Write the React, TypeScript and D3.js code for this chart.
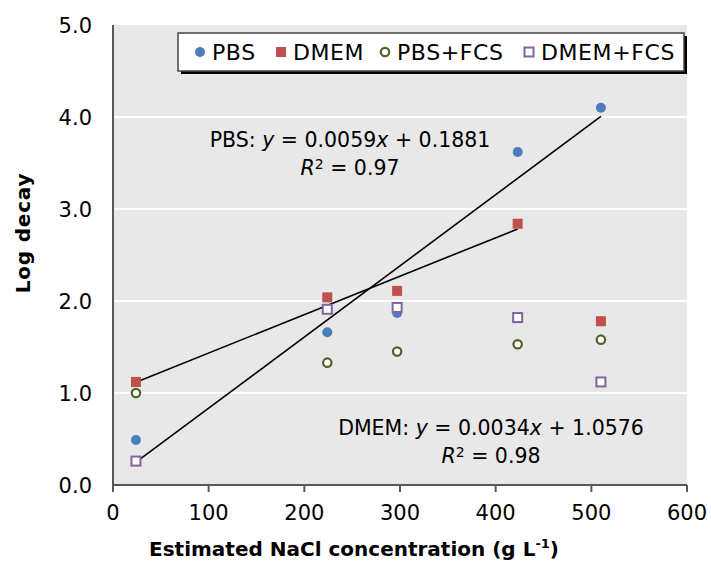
import React, { useEffect, useRef } from "react";
import * as d3 from "d3";

// NaCl concentration (g/L) for each sample
const xValues = [24, 224, 297, 423, 510];
const pbs = [0.49, 1.66, 1.87, 3.62, 4.1];
const dmem = [1.12, 2.04, 2.11, 2.84, 1.78];
const pbsFcs = [1.0, 1.33, 1.45, 1.53, 1.58];
const dmemFcs = [0.26, 1.91, 1.93, 1.82, 1.12];
const seriesNames = ["PBS", "DMEM", "PBS+FCS", "DMEM+FCS"];
const xTicks = [0, 100, 200, 300, 400, 500, 600];
const yTicks = [0, 1, 2, 3, 4, 5];

// least squares line through points
function fit(xs: number[], ys: number[]) {
  const mx = d3.mean(xs) as number;
  const my = d3.mean(ys) as number;
  let num = 0;
  let den = 0;
  xs.forEach((x, i) => {
    num += (x - mx) * (ys[i] - my);
    den += (x - mx) * (x - mx);
  });
  const slope = num / den;
  return { slope, intercept: my - slope * mx };
}

export default function App() {
  const svgRef = useRef<SVGSVGElement>(null);

  useEffect(() => {
    const svg = d3.select(svgRef.current);
    svg.selectAll("*").remove();
    const svgWidth = 711;
    const svgHeight = 563;
    const margin = { top: 25, right: 24, bottom: 78, left: 113 };
    const width = svgWidth - margin.left - margin.right;
    const height = svgHeight - margin.top - margin.bottom;
    const font = "DejaVu Sans, Verdana, sans-serif";

    const g = svg
      .append("g")
      .attr("transform", `translate(${margin.left},${margin.top})`);

    const x = d3.scaleLinear().domain([0, 600]).range([0, width]);
    const y = d3.scaleLinear().domain([0, 5]).range([height, 0]);

    g.append("rect")
      .attr("width", width)
      .attr("height", height)
      .attr("fill", "#e8e8e8");

    // gridlines
    g.selectAll(".grid")
      .data(yTicks.filter((d) => d > 0 && d < 5))
      .enter()
      .append("line")
      .attr("x1", 0)
      .attr("x2", width)
      .attr("y1", (d) => y(d))
      .attr("y2", (d) => y(d))
      .attr("stroke", "#fff")
      .attr("stroke-width", 2);

    // axes
    g.append("line")
      .attr("x1", 0)
      .attr("x2", width)
      .attr("y1", height)
      .attr("y2", height)
      .attr("stroke", "#595959")
      .attr("stroke-width", 2);
    g.append("line")
      .attr("x1", 0)
      .attr("x2", 0)
      .attr("y1", 0)
      .attr("y2", height)
      .attr("stroke", "#595959")
      .attr("stroke-width", 2);

    g.selectAll(".xtick")
      .data(xTicks)
      .enter()
      .append("line")
      .attr("x1", (d) => x(d))
      .attr("x2", (d) => x(d))
      .attr("y1", height)
      .attr("y2", height + 7)
      .attr("stroke", "#595959")
      .attr("stroke-width", 2);

    g.selectAll(".xlabel")
      .data(xTicks)
      .enter()
      .append("text")
      .attr("x", (d) => x(d))
      .attr("y", height + 35)
      .attr("text-anchor", "middle")
      .style("font-family", font)
      .style("font-size", "21px")
      .text((d) => d);

    g.selectAll(".ylabel")
      .data(yTicks)
      .enter()
      .append("text")
      .attr("x", -21)
      .attr("y", (d) => y(d) + 8)
      .attr("text-anchor", "end")
      .style("font-family", font)
      .style("font-size", "21px")
      .text((d) => d.toFixed(1));

    // trendlines
    const pbsFit = fit(xValues, pbs);
    const dmemFit = fit(xValues.slice(0, 4), dmem.slice(0, 4));
    const trend = [
      { f: pbsFit, x0: xValues[0], x1: xValues[4] },
      { f: dmemFit, x0: xValues[0], x1: xValues[3] },
    ];
    g.selectAll(".trend")
      .data(trend)
      .enter()
      .append("line")
      .attr("x1", (d) => x(d.x0))
      .attr("x2", (d) => x(d.x1))
      .attr("y1", (d) => y(d.f.slope * d.x0 + d.f.intercept))
      .attr("y2", (d) => y(d.f.slope * d.x1 + d.f.intercept))
      .attr("stroke", "#000")
      .attr("stroke-width", 1.6);

    // markers
    const drawMarker = (sel: any, i: number) => {
      if (i === 0) {
        sel.append("circle").attr("r", 5).attr("fill", "#4a7ebb");
      } else if (i === 1) {
        sel.append("rect").attr("x", -5).attr("y", -5).attr("width", 10).attr("height", 10).attr("fill", "#c0504d");
      } else if (i === 2) {
        sel.append("circle").attr("r", 4.2).attr("fill", "#fff").attr("stroke", "#4f6228").attr("stroke-width", 2.2);
      } else {
        sel.append("rect").attr("x", -4.5).attr("y", -4.5).attr("width", 9).attr("height", 9)
          .attr("fill", "#fff").attr("stroke", "#8064a2").attr("stroke-width", 2);
      }
    };

    [pbs, dmem, pbsFcs, dmemFcs].forEach((vals, i) => {
      vals.forEach((v, j) => {
        const m = g.append("g").attr("transform", `translate(${x(xValues[j])},${y(v)})`);
        drawMarker(m, i);
      });
    });

    // equations
    const eq = (cx: number, cy: number, name: string, slope: string, icpt: string, r2: string) => {
      const t1 = g.append("text")
        .attr("x", cx).attr("y", cy).attr("text-anchor", "middle")
        .style("font-family", font).style("font-size", "20.5px");
      t1.append("tspan").text(name + ": ");
      t1.append("tspan").style("font-style", "italic").text("y");
      t1.append("tspan").text(" = " + slope);
      t1.append("tspan").style("font-style", "italic").text("x");
      t1.append("tspan").text(" + " + icpt);
      const t2 = g.append("text")
        .attr("x", cx).attr("y", cy + 28).attr("text-anchor", "middle")
        .style("font-family", font).style("font-size", "20.5px");
      t2.append("tspan").style("font-style", "italic").text("R");
      t2.append("tspan").attr("dy", -6).style("font-size", "14px").text("2");
      t2.append("tspan").attr("dy", 6).text(" = " + r2);
    };
    eq(237, 122, "PBS", "0.0059", "0.1881", "0.97");
    eq(378, 410, "DMEM", "0.0034", "1.0576", "0.98");

    // legend
    const lg = svg.append("g").attr("transform", "translate(178,33)");
    lg.append("rect").attr("x", 3).attr("y", 3).attr("width", 506).attr("height", 38).attr("fill", "#000");
    lg.append("rect").attr("width", 506).attr("height", 38).attr("fill", "#fff").attr("stroke", "#444").attr("stroke-width", 1.5);
    const legendX = [22, 103, 207, 351];
    seriesNames.forEach((name, i) => {
      const item = lg.append("g").attr("transform", `translate(${legendX[i]},19)`);
      drawMarker(item, i);
      item.append("text")
        .attr("x", 12).attr("y", 8)
        .style("font-family", font).style("font-size", "22px")
        .style("letter-spacing", "0.6px")
        .text(name);
    });

    // axis titles
    const xt = svg.append("text")
      .attr("x", margin.left + width / 2 - 46)
      .attr("y", 556)
      .attr("text-anchor", "middle")
      .style("font-family", font)
      .style("font-size", "20px")
      .style("font-weight", "bold");
    xt.append("tspan").text("Estimated NaCl concentration (g L");
    xt.append("tspan").attr("dy", -8).style("font-size", "13px").text("-1");
    xt.append("tspan").attr("dy", 8).text(")");

    svg.append("text")
      .attr("transform", `translate(30,${margin.top + height / 2 - 22}) rotate(-90)`)
      .attr("text-anchor", "middle")
      .style("font-family", font)
      .style("font-size", "20px")
      .style("font-weight", "bold")
      .style("letter-spacing", "0.8px")
      .text("Log decay");
  }, []);

  return (
    <div style={{ position: "absolute", left: 0, top: 0 }}>
      <svg ref={svgRef} width={711} height={563}></svg>
    </div>
  );
}
